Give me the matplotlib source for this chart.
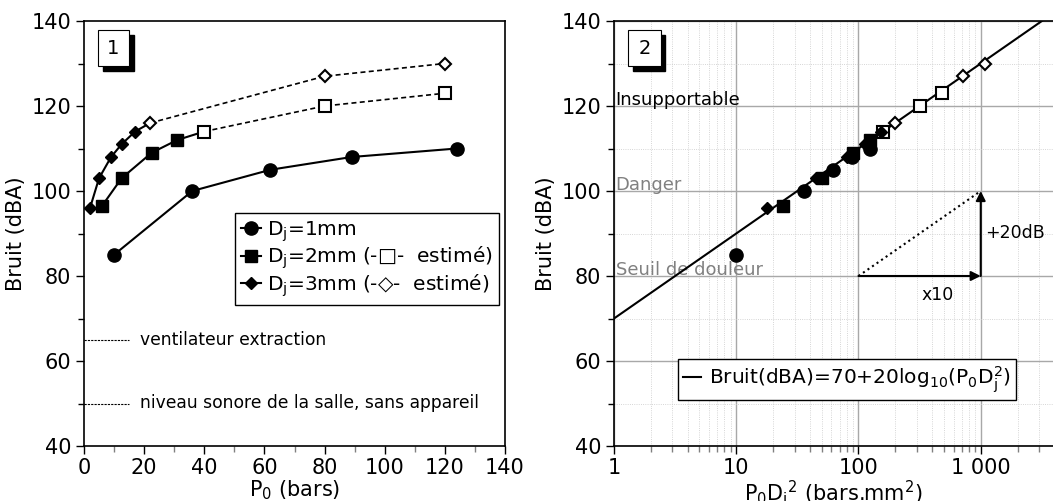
import numpy as np
import matplotlib
matplotlib.use("Agg")
import matplotlib.pyplot as plt
from matplotlib.patches import Rectangle
from matplotlib.ticker import FuncFormatter, MultipleLocator, LogLocator, NullFormatter

plt.rcParams['font.family'] = ['DejaVu Sans']
plt.rcParams['font.size'] = 14

# data
p_d1 = [10, 36, 62, 89, 124]
b_d1 = [85, 100, 105, 108, 110]

p_d2 = [6, 12.5, 22.5, 31]
b_d2 = [96.5, 103, 109, 112]
p_d2_est = [40, 80, 120]
b_d2_est = [114, 120, 123]

p_d3 = [2, 5, 9, 12.5, 17]
b_d3 = [96, 103, 108, 111, 114]
p_d3_est = [22, 80, 120]
b_d3_est = [116, 127, 130]

diam = [1, 2, 3]  # mm

ref_levels = [65, 50]
ref_labels = ["ventilateur extraction", "niveau sonore de la salle, sans appareil"]

zones = [120, 100, 80]
zone_labels = ["Insupportable", "Danger", "Seuil de douleur"]
zone_colors = ["black", "gray", "gray"]

fig = plt.figure(figsize=(10.53, 5.01), dpi=100)
ax1 = fig.add_axes([84/1053, 55/501, 421/1053, 425/501])
ax2 = fig.add_axes([614/1053, 55/501, 1 - 614/1053, 425/501])


def num_box(ax, txt, w):
    # w: box width in axes fraction
    ax.add_patch(Rectangle((0.033 + 0.011, 0.894 - 0.012), w, 0.085, transform=ax.transAxes,
                           facecolor='black', edgecolor='black', zorder=5, clip_on=False))
    ax.add_patch(Rectangle((0.033, 0.894), w, 0.085, transform=ax.transAxes,
                           facecolor='white', edgecolor='black', lw=0.8, zorder=6, clip_on=False))
    ax.text(0.033 + w / 2, 0.936, txt, transform=ax.transAxes, ha='center', va='center',
            fontsize=14, zorder=7)


ms_o, ms_s, ms_d = 9.5, 8.5, 6.5

# ---- plot 1
ax1.plot(p_d1, b_d1, '-o', color='black', ms=ms_o, lw=1.5)
ax1.plot(p_d2 + p_d2_est[:1], b_d2 + b_d2_est[:1], '-', color='black', lw=1.5)
ax1.plot(p_d2, b_d2, 's', color='black', ms=ms_s)
ax1.plot(p_d2_est, b_d2_est, '--s', color='black', mfc='white', mew=1.5, ms=ms_s, lw=1.2, dashes=(3, 2))
ax1.plot(p_d3 + p_d3_est[:1], b_d3 + b_d3_est[:1], '-', color='black', lw=1.5)
ax1.plot(p_d3, b_d3, 'D', color='black', ms=ms_d)
ax1.plot(p_d3_est, b_d3_est, '--D', color='black', mfc='white', mew=1.5, ms=ms_d, lw=1.2, dashes=(3, 2))

for lev, lab in zip(ref_levels, ref_labels):
    ax1.plot([0, 15], [lev, lev], color='black', lw=0.8, ls=(0, (2, 1)))
    ax1.text(18.5, lev, lab, fontsize=12.3, va='center')

hands = [ax1.plot([], [], '-o', color='k', ms=ms_o)[0],
         ax1.plot([], [], '-s', color='k', ms=ms_s)[0],
         ax1.plot([], [], '-D', color='k', ms=ms_d)[0]]
labs = ["D$_\\mathregular{j}$=1mm",
        "D$_\\mathregular{j}$=2mm (-□-  estimé)",
        "D$_\\mathregular{j}$=3mm (-◇-  estimé)"]
ax1.legend(hands, labs, loc='center right', bbox_to_anchor=(0.986, 0.44), fancybox=False,
           edgecolor='black', framealpha=1, handlelength=1.0, handletextpad=0.3,
           borderpad=0.3, labelspacing=0.05, fontsize=14.5, borderaxespad=0)

ax1.set_xlim(0, 140)
ax1.set_ylim(40, 140)
ax1.xaxis.set_major_locator(MultipleLocator(20))
ax1.xaxis.set_minor_locator(MultipleLocator(10))
ax1.yaxis.set_major_locator(MultipleLocator(20))
ax1.yaxis.set_minor_locator(MultipleLocator(10))
ax1.set_xlabel("P$_\\mathregular{0}$ (bars)", fontsize=15, labelpad=0)
ax1.set_ylabel("Bruit (dBA)", fontsize=15)
num_box(ax1, "1", 0.074)

# ---- plot 2
pd2 = lambda p, d: [v * d * d for v in p]
ax2.plot(pd2(p_d1, diam[0]), b_d1, 'o', color='black', ms=ms_o, zorder=4)
ax2.plot(pd2(p_d2, diam[1]), b_d2, 's', color='black', ms=ms_s, zorder=4)
ax2.plot(pd2(p_d2_est, diam[1]), b_d2_est, 's', color='black', mfc='white', mew=1.5, ms=ms_s, zorder=4)
ax2.plot(pd2(p_d3, diam[2]), b_d3, 'D', color='black', ms=ms_d, zorder=4)
ax2.plot(pd2(p_d3_est, diam[2]), b_d3_est, 'D', color='black', mfc='white', mew=1.5, ms=ms_d, zorder=4)

xfit = np.logspace(0, 4, 50)
ax2.plot(xfit, 70 + 20 * np.log10(xfit), color='black', lw=1.5, zorder=3,
         label="Bruit(dBA)=70+20log$_\\mathregular{10}$(P$_\\mathregular{0}$D$_\\mathregular{j}^\\mathregular{2}$)")

for z, lab, c in zip(zones, zone_labels, zone_colors):
    ax2.text(1.03, z + 0.3, lab, color=c, fontsize=13, va='baseline', zorder=2)

ax2.plot([100, 1000], [80, 100], color='black', ls=':', lw=1.5)
ax2.annotate("", xy=(1000, 80), xytext=(100, 80),
             arrowprops=dict(arrowstyle='-|>', color='black', lw=1.5, mutation_scale=14, shrinkA=0, shrinkB=0))
ax2.annotate("", xy=(1000, 100), xytext=(1000, 80),
             arrowprops=dict(arrowstyle='-|>', color='black', lw=1.5, mutation_scale=14, shrinkA=0, shrinkB=0))
ax2.text(440, 75.5, "x10", fontsize=12.5, ha='center', va='center')
ax2.text(1090, 90, "+20dB", fontsize=12.5, ha='left', va='center')

ax2.set_xscale('log')
ax2.set_xlim(1, 3900)
ax2.set_ylim(40, 140)
ax2.xaxis.set_major_locator(LogLocator(base=10))
ax2.xaxis.set_minor_locator(LogLocator(base=10, subs=np.arange(2, 10)))
ax2.xaxis.set_minor_formatter(NullFormatter())
ax2.xaxis.set_major_formatter(FuncFormatter(lambda v, p: f"{int(round(v)):,}".replace(",", " ")))
ax2.yaxis.set_major_locator(MultipleLocator(20))
ax2.yaxis.set_minor_locator(MultipleLocator(10))
ax2.grid(which='major', color='#a8a8a8', lw=1)
ax2.grid(which='minor', color='#c8c8c8', lw=0.6, ls=':')
ax2.set_axisbelow(True)
ax2.spines['right'].set_visible(False)
ax2.set_xlabel("P$_\\mathregular{0}$D$_\\mathregular{j}$$^\\mathregular{2}$ (bars.mm$^\\mathregular{2}$)",
               fontsize=15, labelpad=0)
ax2.set_ylabel("Bruit (dBA)", fontsize=15)
ax2.legend(loc='lower center', bbox_to_anchor=(0.53, 0.108), fancybox=False, edgecolor='black',
           framealpha=1, handlelength=0.9, handletextpad=0.4, fontsize=14.5, borderpad=0.25,
           borderaxespad=0)
num_box(ax2, "2", 0.073)

for ax in (ax1, ax2):
    ax.tick_params(which='major', direction='out', length=6, width=1, labelsize=15, pad=3)
    ax.tick_params(which='minor', direction='out', length=4, width=1)
    ax.tick_params(axis='x', which='minor', color='gray')
    for s in ax.spines.values():
        s.set_linewidth(1.2)

fig.savefig("out.png", dpi=100)
